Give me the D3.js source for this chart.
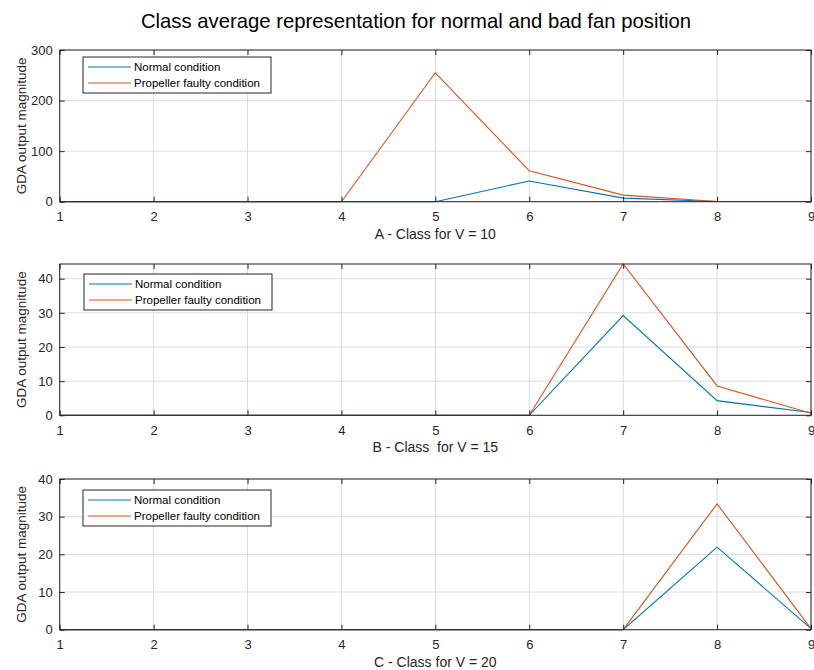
<!DOCTYPE html>
<html><head><meta charset="utf-8">
<script src="https://cdn.jsdelivr.net/npm/d3@7"></script>
<style>body{margin:0;background:#fff}svg{display:block}</style>
</head><body>
<svg id="c" width="814" height="670"></svg>
<script>
const classes = [1,2,3,4,5,6,7,8,9];
const normalA = [0,0,0,0,0,41,7,0.3,0.3];
const faultyA = [0,0,0,0,255,61,13,0.5,0.5];
const normalB = [0,0,0,0,0,0,29.2,4.3,0.8];
const faultyB = [0,0,0,0,0,0,44.3,8.6,0.6];
const normalC = [0,0,0,0,0,0,0,21.9,0.3];
const faultyC = [0,0,0,0,0,0,0,33.4,0.3];
const yTicksA = [0,100,200,300];
const yTicksB = [0,10,20,30,40];
const yTicksC = [0,10,20,30,40];
const xLabels = ["A - Class for V = 10","B - Class  for V = 15","C - Class for V = 20"];
const legendNames = ["Normal condition","Propeller faulty condition"];
const title = "Class average representation for normal and bad fan position";

const panels = [
  {top:50, bottom:201.7, ymax:300, ticks:yTicksA, n:normalA, f:faultyA, xl:xLabels[0], leg:{x:83,y:57}},
  {top:264, bottom:415.3, ymax:44.3, ticks:yTicksB, n:normalB, f:faultyB, xl:xLabels[1], leg:{x:84,y:274}},
  {top:479, bottom:629.7, ymax:40, ticks:yTicksC, n:normalC, f:faultyC, xl:xLabels[2], leg:{x:83,y:490}}
];
const svg = d3.select("#c");
const FONT = "Liberation Sans, Arial, Helvetica, sans-serif";
const axisCol = "#262626";
const blue = "#0072BD", orange = "#D95319";
const L = 59.7, R = 811;
svg.append("text").attr("x",416).attr("y",28).attr("text-anchor","middle")
  .attr("font-family",FONT).attr("font-size",20.3).attr("fill","#000").text(title);

panels.forEach(p=>{
  const x = d3.scaleLinear().domain([1,9]).range([L,R]);
  const y = d3.scaleLinear().domain([0,p.ymax]).range([p.bottom,p.top]);
  const g = svg.append("g");
  g.selectAll(".gx").data(classes).enter().append("line")
    .attr("x1",d=>x(d)).attr("x2",d=>x(d)).attr("y1",p.top).attr("y2",p.bottom)
    .attr("stroke","#dcdcdc").attr("stroke-width",1);
  g.selectAll(".gy").data(p.ticks).enter().append("line")
    .attr("y1",d=>y(d)).attr("y2",d=>y(d)).attr("x1",L).attr("x2",R)
    .attr("stroke","#dcdcdc").attr("stroke-width",1);
  const line = d3.line().x((d,i)=>x(classes[i])).y(d=>y(d));
  g.append("path").datum(p.n).attr("d",line).attr("fill","none").attr("stroke",blue).attr("stroke-width",1.1);
  g.append("path").datum(p.f).attr("d",line).attr("fill","none").attr("stroke",orange).attr("stroke-width",1.1);
  const tl = 5;
  const ax = g.append("g").attr("transform",`translate(0,${p.bottom})`)
    .call(d3.axisBottom(x).tickValues(classes).tickSize(-tl).tickPadding(10).tickFormat(d3.format("d")));
  const axT = g.append("g").attr("transform",`translate(0,${p.top})`)
    .call(d3.axisTop(x).tickValues(classes).tickSize(-tl).tickFormat(""));
  const ay = g.append("g").attr("transform",`translate(${L},0)`)
    .call(d3.axisLeft(y).tickValues(p.ticks).tickSize(-tl).tickPadding(7).tickFormat(d3.format("d")));
  const ayR = g.append("g").attr("transform",`translate(${R},0)`)
    .call(d3.axisRight(y).tickValues(p.ticks).tickSize(-tl).tickFormat(""));
  [ax,axT,ay,ayR].forEach(a=>{
    a.select(".domain").remove();
    a.selectAll("line").attr("stroke",axisCol);
    a.selectAll("text").attr("font-family",FONT).attr("font-size",13).attr("fill",axisCol);
  });
  ax.selectAll("text").attr("dy","0.71em");
  g.append("rect").attr("x",L).attr("y",p.top).attr("width",R-L).attr("height",p.bottom-p.top)
    .attr("fill","none").attr("stroke",axisCol).attr("stroke-width",1);
  g.append("text").attr("x",(L+R)/2).attr("y",p.bottom+37).attr("text-anchor","middle")
    .attr("font-family",FONT).attr("font-size",14).attr("fill",axisCol).attr("xml:space","preserve").style("white-space","pre").text(p.xl);
  g.append("text").attr("transform",`translate(21,${(p.top+p.bottom)/2}) rotate(-90)`)
    .attr("text-anchor","middle").attr("dy","0.35em").attr("font-family",FONT).attr("font-size",13.5).attr("fill",axisCol)
    .text("GDA output magnitude");
  const lg = g.append("g").attr("transform",`translate(${p.leg.x},${p.leg.y})`);
  lg.append("rect").attr("width",188).attr("height",36).attr("fill","#fff").attr("stroke",axisCol).attr("stroke-width",1);
  [blue,orange].forEach((c,i)=>{
    const yy = 10 + i*16;
    lg.append("line").attr("x1",5).attr("x2",48).attr("y1",yy).attr("y2",yy).attr("stroke",c).attr("stroke-width",1.1);
    lg.append("text").attr("x",51).attr("y",yy+4).attr("font-family",FONT).attr("font-size",11.5).attr("fill","#000").text(legendNames[i]);
  });
});
</script>
</body></html>
